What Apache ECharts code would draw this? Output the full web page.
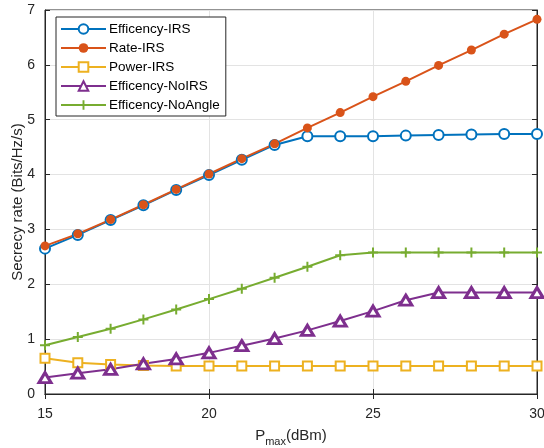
<!DOCTYPE html>
<html>
<head>
<meta charset="utf-8">
<script src="https://cdn.jsdelivr.net/npm/echarts@6/dist/echarts.min.js"></script>
<style>
  html, body { margin: 0; padding: 0; background: #fff; }
  #chart { width: 544px; height: 448px; }
</style>
</head>
<body>
<div id="chart"></div>
<script>
// x axis values (Pmax, dBm)
const pmax = [15, 16, 17, 18, 19, 20, 21, 22, 23, 24, 25, 26, 27, 28, 29, 30]

// series values
const effIRS = [2.65, 2.90, 3.17, 3.44, 3.72, 3.99, 4.27, 4.54, 4.70, 4.70, 4.70, 4.71, 4.72, 4.73, 4.74, 4.74]
const rateIRS = [2.70, 2.92, 3.18, 3.45, 3.73, 4.01, 4.29, 4.56, 4.85, 5.13, 5.42, 5.70, 5.99, 6.27, 6.56, 6.83]
const powerIRS = [0.65, 0.57, 0.54, 0.52, 0.51, 0.51, 0.51, 0.51, 0.51, 0.51, 0.51, 0.51, 0.51, 0.51, 0.51, 0.51]
const effNoIRS = [0.30, 0.38, 0.45, 0.55, 0.64, 0.75, 0.88, 1.01, 1.16, 1.33, 1.51, 1.71, 1.85, 1.85, 1.85, 1.85]
const effNoAngle = [0.89, 1.04, 1.19, 1.36, 1.54, 1.73, 1.92, 2.12, 2.32, 2.53, 2.58, 2.58, 2.58, 2.58, 2.58, 2.58]

const xTicks = [15, 20, 25, 30]
const yTicks = [0, 1, 2, 3, 4, 5, 6, 7]

const FONT = 'Liberation Sans'
const plusPath = 'path://M4,0 L6,0 L6,4 L10,4 L10,6 L6,6 L6,10 L4,10 L4,6 L0,6 L0,4 L4,4 Z'

const toPairs = (ys) => pmax.map((x, i) => [x, ys[i]])

const chart = echarts.init(document.getElementById('chart'), null, { renderer: 'canvas' })

const axisCommon = {
  axisLine: { show: true, lineStyle: { color: '#262626', width: 1 } },
  axisTick: { show: true, inside: true, length: 5, lineStyle: { color: '#262626' } }
}

// border = 0 means a filled marker, otherwise hollow with that outline width
function makeSeries (name, data, color, symbol, size, border) {
  return {
    name: name,
    type: 'line',
    data: toPairs(data),
    symbol: symbol,
    symbolSize: size,
    showAllSymbol: true,
    lineStyle: { color: color, width: 2 },
    itemStyle: {
      color: border ? '#ffffff' : color,
      borderColor: color,
      borderWidth: border
    },
    emphasis: { disabled: true },
    animation: false
  }
}

const option = {
  backgroundColor: '#ffffff',
  textStyle: { fontFamily: FONT },
  grid: {
    left: 45,
    right: 7,
    top: 10,
    bottom: 54,
    outerBoundsMode: 'none',
    containLabel: false,
    show: true,
    borderColor: '#262626',
    borderWidth: 1
  },
  legend: {
    orient: 'vertical',
    left: 56,
    top: 17,
    padding: [5, 6, 4, 4],
    itemGap: 5,
    itemWidth: 45,
    itemHeight: 12,
    backgroundColor: '#ffffff',
    borderColor: '#262626',
    borderWidth: 1,
    textStyle: { fontFamily: FONT, fontSize: 13.5, color: '#000000', padding: [0, 0, 0, -2] },
    data: ['Efficency-IRS', 'Rate-IRS', 'Power-IRS', 'Efficency-NoIRS', 'Efficency-NoAngle']
  },
  xAxis: [
    {
      type: 'value',
      min: xTicks[0],
      max: xTicks[xTicks.length - 1],
      interval: 5,
      ...axisCommon,
      axisLabel: { color: '#262626', fontSize: 14, fontFamily: FONT, margin: 13 },
      splitLine: { show: true, lineStyle: { color: '#e3e3e3', width: 1 } },
      name: '{a|P}{b|max}{a|(dBm)}',
      nameLocation: 'middle',
      nameGap: 31,
      nameMoveOverlap: false,
      nameTextStyle: {
        rich: {
          a: { fontSize: 15, fontFamily: FONT, color: '#262626' },
          b: { fontSize: 11, fontFamily: FONT, color: '#262626', padding: [11, 0, 0, 0] }
        }
      }
    },
    {
      type: 'value',
      position: 'top',
      min: xTicks[0],
      max: xTicks[xTicks.length - 1],
      interval: 5,
      ...axisCommon,
      axisLabel: { show: false },
      splitLine: { show: false }
    }
  ],
  yAxis: [
    {
      type: 'value',
      min: yTicks[0],
      max: yTicks[yTicks.length - 1],
      interval: 1,
      ...axisCommon,
      axisLabel: { color: '#262626', fontSize: 14, fontFamily: FONT, margin: 10 },
      splitLine: { show: true, lineStyle: { color: '#e3e3e3', width: 1 } },
      name: 'Secrecy rate (Bits/Hz/s)',
      nameLocation: 'middle',
      nameGap: 20,
      nameMoveOverlap: false,
      nameTextStyle: { fontSize: 15, fontFamily: FONT, color: '#262626' }
    },
    {
      type: 'value',
      position: 'right',
      min: yTicks[0],
      max: yTicks[yTicks.length - 1],
      interval: 1,
      ...axisCommon,
      axisLabel: { show: false },
      splitLine: { show: false }
    }
  ],
  series: [
    makeSeries('Efficency-IRS', effIRS, '#0072BD', 'circle', 10, 2),
    makeSeries('Rate-IRS', rateIRS, '#D95319', 'circle', 9, 0),
    makeSeries('Power-IRS', powerIRS, '#EDB120', 'rect', 9, 2),
    makeSeries('Efficency-NoIRS', effNoIRS, '#7E2F8E', 'triangle', [12, 10], 3),
    makeSeries('Efficency-NoAngle', effNoAngle, '#77AC30', plusPath, 10, 0)
  ]
}

chart.setOption(option)
</script>
</body>
</html>
